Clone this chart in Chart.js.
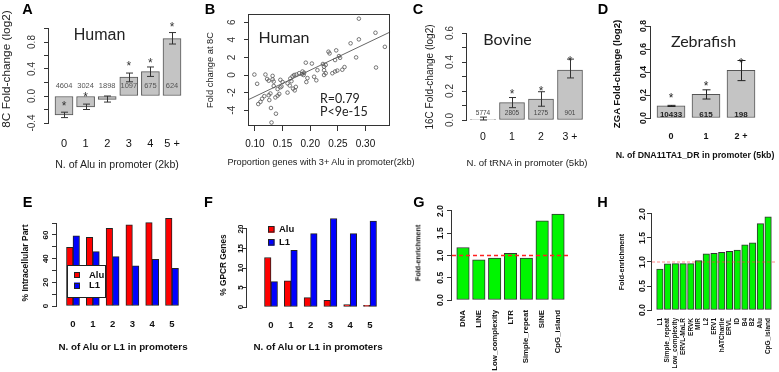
<!DOCTYPE html>
<html>
<head>
<meta charset="utf-8">
<script src="https://cdn.jsdelivr.net/npm/chart.js@4.4.0/dist/chart.umd.min.js"></script>
<style>
  body { margin: 0; background: #fff; }
  #fig { position: relative; width: 779px; height: 372px; overflow: hidden; background: #fff;
         font-family: "Liberation Sans", Arial, sans-serif; }
  #fig canvas { position: absolute; }
  .t { position: absolute; white-space: nowrap; line-height: 1; color: #222; }
</style>
</head>
<body>
<div id="fig"></div>
<script>
const FONT = "'Liberation Sans', Arial, sans-serif";
const INK = '#333';
const AX = '#333';

// --- A: human 8C, number of Alu in promoter
const aCats = ['0', '1', '2', '3', '4', '5 +'];
const aMean = [-0.28, -0.16, -0.05, 0.28, 0.36, 0.85];
const aLo = [-0.32, -0.20, -0.09, 0.21, 0.29, 0.77];
const aHi = [-0.24, -0.12, 0.00, 0.34, 0.43, 0.94];
const aStar = [-0.10, 0.03, null, 0.49, 0.53, 1.07];
const aN = ['4604', '3024', '1898', '1097', '675', '624'];
const aTicks = [-0.4, -0.2, 0, 0.2, 0.4, 0.6, 0.8, 1.0];
const aTickLab = ['-0.4', '', '0.0', '', '0.4', '', '0.8', ''];

// --- B: fold change vs proportion of genes with 3+ Alu
const bX = [0.099, 0.104, 0.106, 0.110, 0.113, 0.117, 0.119, 0.122, 0.125, 0.125, 0.126, 0.128, 0.129, 0.130,
  0.132, 0.132, 0.134, 0.134, 0.137, 0.138, 0.141, 0.141, 0.144, 0.146, 0.146, 0.150, 0.148, 0.159, 0.159,
  0.163, 0.164, 0.166, 0.168, 0.169, 0.171, 0.172, 0.174, 0.175, 0.180, 0.185, 0.186, 0.188, 0.189, 0.192,
  0.193, 0.195, 0.203, 0.207, 0.211, 0.213, 0.223, 0.225, 0.228, 0.225, 0.225, 0.228, 0.233, 0.235, 0.240,
  0.245, 0.245, 0.247, 0.249, 0.252, 0.254, 0.258, 0.262, 0.273, 0.283, 0.288, 0.288, 0.318, 0.319, 0.335];
const bY = [0.05, -1.0, -3.3, -3.05, -2.7, -2.4, 0.05, -0.45, -0.65, -2.3, -2.85, -2.1, -3.75, -5.4,
  -0.1, -0.5, -0.75, -1.25, -2.55, -4.4, -2.35, -1.6, -2.15, -1.4, -0.55, -0.8, -1.3, -0.95, -2.0,
  -1.2, -0.4, -0.7, -0.15, -1.55, 0.0, -1.75, -1.35, 0.05, 0.2, 0.1, 0.4, 0.0, 0.25, 1.4,
  -0.8, -0.35, 1.3, -0.2, -0.6, 0.55, 1.25, 0.95, 1.15, 0.55, 0.0, 0.2, 2.65, 2.45, 0.2,
  0.4, 1.7, 2.8, 0.5, 2.15, 1.95, 0.6, 0.9, 3.6, 2.0, 4.05, 6.4, 4.8, 0.85, 3.2];
const bFitA = -5.45, bFitB = 30;
const bXTicks = [0.10, 0.15, 0.20, 0.25, 0.30];
const bYTicks = [-4, -2, 0, 2, 4, 6];

// --- C: bovine 16C, number of tRNA in promoter
const cCats = ['0', '1', '2', '3 +'];
const cMean = [0.005, 0.12, 0.145, 0.345];
const cLo = [0.0, 0.085, 0.095, 0.29];
const cHi = [0.02, 0.155, 0.195, 0.42];
const cStar = [null, 0.20, 0.22, 0.43];
const cN = ['5774', '2805', '1275', '901'];
const cTicks = [0, 0.1, 0.2, 0.3, 0.4, 0.5, 0.6];
const cTickLab = ['0.0', '', '0.2', '', '0.4', '', '0.6'];

// --- D: zebrafish ZGA, number of DNA11TA1_DR in promoter
const dCats = ['0', '1', '2 +'];
const dMean = [0.105, 0.205, 0.415];
const dLo = [0.10, 0.165, 0.325];
const dHi = [0.11, 0.245, 0.50];
const dStar = [0.20, 0.30, 0.50];
const dN = ['10433', '615', '198'];
const dTicks = [0, 0.2, 0.4, 0.6, 0.8];
const dTickLab = ['0.0', '0.2', '0.4', '0.6', '0.8'];

// --- E / F: % intracellular part and % GPCR genes
const efCats = ['0', '1', '2', '3', '4', '5'];
const eAlu = [49.6, 58, 65.6, 68.5, 70.4, 74];
const eL1 = [59.2, 46, 41.7, 34, 39.4, 31.8];
const eTicks = [0, 10, 20, 30, 40, 50, 60, 70];
const eTickLab = ['0', '', '20', '', '40', '', '60', ''];
const fAlu = [12.7, 6.7, 2.4, 1.7, 0.6, 0.45];
const fL1 = [6.5, 14.5, 18.8, 22.7, 18.8, 22];
const fTicks = [0, 5, 10, 15, 20];
const fTickLab = ['0', '5', '10', '15', '20'];

// --- G / H: fold-enrichment of repeat classes / families
const gCats = ['DNA', 'LINE', 'Low_complexity', 'LTR', 'Simple_repeat', 'SINE', 'CpG_island'];
const gVal = [1.18, 0.9, 0.94, 1.05, 0.94, 1.78, 1.93];
const hCats = ['L1', 'Simple_repeat', 'Low_complexity', 'ERVL-MaLR', 'ERVK', 'MIR', 'L2', 'ERV1',
  'hATCharlie', 'ERVL', 'ID', 'B4', 'B2', 'Alu', 'CpG_island'];
const hVal = [0.85, 0.96, 0.965, 0.965, 0.965, 1.03, 1.17, 1.18, 1.2, 1.22, 1.25, 1.36, 1.4, 1.8, 1.94];
const ghTicks = [0, 0.5, 1, 1.5, 2];
const ghTickLab = ['0.0', '0.5', '1.0', '1.5', '2.0'];
const ghBase = 1.0;

const fig = document.getElementById('fig');
const mctx = document.createElement('canvas').getContext('2d');
function textW(s, f) {
  mctx.font = `${f.weight || 'normal'} ${f.size}px ${f.family}`;
  return mctx.measureText(s).width;
}

// R-like decorations: axis line between end ticks, box, error bars, stars, counts, legend
const rDecor = {
  id: 'rDecor',
  afterDatasetsDraw(chart, _args, o) {
    const { ctx, chartArea: ca } = chart;
    const x = chart.scales.x, y = chart.scales.y;
    const al = p => Math.round(p - 0.5) + 0.5;
    ctx.save();
    ctx.lineWidth = 1;
    if (o.hline) {
      ctx.strokeStyle = o.hline.color;
      ctx.lineWidth = o.hline.width;
      ctx.setLineDash(o.hline.dash);
      const py = y.getPixelForValue(o.hline.value);
      ctx.beginPath(); ctx.moveTo(ca.left, py); ctx.lineTo(ca.right, py); ctx.stroke();
      ctx.setLineDash([]);
      ctx.lineWidth = 1;
    }
    ctx.strokeStyle = AX;
    if (o.axis) {
      const t = y.ticks, px = Math.round(ca.left) - 0.5;
      ctx.beginPath();
      ctx.moveTo(px, al(y.getPixelForValue(t[0].value)) + 0.5);
      ctx.lineTo(px, al(y.getPixelForValue(t[t.length - 1].value)) - 0.5);
      ctx.stroke();
    }
    if (o.box) {
      ctx.strokeRect(Math.round(ca.left) - 0.5, Math.round(ca.top) + 0.5,
        Math.round(ca.width), Math.round(ca.height) - 1);
    }
    if (o.err) {
      ctx.strokeStyle = o.err.color;
      const c = o.err.cap;
      o.err.lo.forEach((lo, i) => {
        const px = Math.round(x.getPixelForValue(i)) + 0.5;
        const p1 = y.getPixelForValue(lo), p2 = y.getPixelForValue(o.err.hi[i]);
        ctx.beginPath();
        ctx.moveTo(px, p1); ctx.lineTo(px, p2);
        ctx.moveTo(px - c, p1); ctx.lineTo(px + c, p1);
        ctx.moveTo(px - c, p2); ctx.lineTo(px + c, p2);
        ctx.stroke();
      });
    }
    ctx.textAlign = 'center';
    if (o.stars) {
      ctx.fillStyle = o.stars.color;
      ctx.font = `${o.stars.size}px ${FONT}`;
      ctx.textBaseline = 'alphabetic';
      o.stars.y.forEach((v, i) => {
        if (v === null) return;
        ctx.fillText('*', x.getPixelForValue(i), y.getPixelForValue(v) + 0.58 * o.stars.size);
      });
    }
    if (o.counts) {
      ctx.fillStyle = o.counts.color;
      ctx.font = `${o.counts.weight || 'normal'} ${o.counts.size}px ${FONT}`;
      ctx.textBaseline = 'middle';
      o.counts.text.forEach((s, i) => ctx.fillText(s, x.getPixelForValue(i), y.getPixelForValue(o.counts.y)));
    }
    if (o.legend) {
      const L = o.legend;
      if (L.box) {
        ctx.fillStyle = '#fff';
        ctx.fillRect(L.box[0], L.box[1], L.box[2], L.box[3]);
        ctx.strokeStyle = '#222';
        ctx.strokeRect(L.box[0] + 0.5, L.box[1] + 0.5, L.box[2], L.box[3]);
      }
      ctx.font = `bold ${L.size}px ${FONT}`;
      ctx.textAlign = 'left';
      ctx.textBaseline = 'middle';
      chart.data.datasets.forEach((ds, i) => {
        const cy = L.rows[i];
        ctx.fillStyle = ds.backgroundColor;
        ctx.fillRect(L.sqX, cy - L.sq / 2, L.sq, L.sq);
        ctx.strokeStyle = '#222';
        ctx.strokeRect(L.sqX + 0.5, Math.round(cy - L.sq / 2) + 0.5, L.sq - 1, L.sq - 1);
        ctx.fillStyle = '#111';
        ctx.fillText(ds.label, L.textX, cy);
      });
    }
    ctx.restore();
  }
};

function zeroPad(s) { s.paddingLeft = s.paddingRight = s.paddingTop = s.paddingBottom = 0; }

// value range that puts pixel pa..pb on a scale where pixel p0 -> v0 and p1 -> v1
function span(p0, v0, p1, v1, pa, pb) {
  const k = (v1 - v0) / (p1 - p0);
  return [v0 + (pa - p0) * k, v0 + (pb - p0) * k];
}

function yAxis(range, ticks, labels, size, weight, L, cx) {
  const font = { family: FONT, size, weight };
  const w = Math.max(...labels.map(s => textW(s, font)));
  return {
    type: 'linear', min: range[0], max: range[1],
    afterBuildTicks: s => { s.ticks = ticks.map(v => ({ value: v })); },
    ticks: { callback: (v, i) => labels[i], autoSkip: false, minRotation: 90, maxRotation: 90,
      crossAlign: 'center', padding: L - 5 - cx - w / 2, font, color: weight ? '#111' : INK },
    grid: { drawOnChartArea: false, tickLength: 5, color: AX },
    border: { display: false }
  };
}

function xAxis(range, ticks, labels, size, weight, gap, rot, marks) {
  return {
    type: 'linear', min: range[0], max: range[1], offset: false,
    afterBuildTicks: s => { s.ticks = ticks.map(v => ({ value: v })); },
    ticks: { callback: (v, i) => labels[i], autoSkip: false, minRotation: rot ? 90 : 0, maxRotation: rot ? 90 : 0,
      padding: gap, font: { family: FONT, size, weight }, color: weight ? '#111' : INK },
    grid: marks ? { drawOnChartArea: false, tickLength: 5, color: AX, offset: false }
                : { display: false, drawTicks: false, offset: false },
    border: { display: false }
  };
}

function panel(type, box, area, datasets, xs, ys, decor) {
  const [bx, by, bw, bh] = box, [L, T, R, B] = area;
  const cv = document.createElement('canvas');
  cv.width = bw; cv.height = bh;
  cv.style.left = bx + 'px'; cv.style.top = by + 'px';
  fig.appendChild(cv);
  xs.afterFit = s => { s.height = by + bh - B; zeroPad(s); };
  ys.afterFit = s => { s.width = L - bx; zeroPad(s); };
  return new Chart(cv, {
    type,
    data: { datasets },
    options: {
      responsive: false, animation: false, events: [],
      layout: { padding: { left: 0, top: T - by, right: bx + bw - R, bottom: 0 } },
      scales: { x: xs, y: ys },
      plugins: { legend: { display: false }, tooltip: { enabled: false }, rDecor: decor }
    },
    plugins: [rDecor]
  });
}

const pts = vals => vals.map((v, i) => ({ x: i, y: v }));
const grayBar = (vals, w) => ({ type: 'bar', data: pts(vals), backgroundColor: '#c4c4c4', borderColor: '#555',
  borderWidth: 1, borderSkipped: false, barThickness: w });
const idx = a => a.map((_, i) => i);

// A
panel('bar', [0, 0, 190, 185], [49, 13, 185, 125],
  [grayBar(aMean, 18)],
  xAxis(span(64, 0, 172, 5, 49, 185), idx(aCats), aCats, 11, 'normal', 12.4),
  yAxis(span(96, 0, 42, 0.8, 125, 13), aTicks, aTickLab, 10, undefined, 49, 32),
  { axis: true, err: { lo: aLo, hi: aHi, cap: 3.5, color: '#333' },
    stars: { y: aStar, size: 12, color: '#333' }, counts: { text: aN, y: 0.148, size: 7.5, color: '#555' } });

// B
const bXR = span(255, 0.10, 367, 0.30, 249, 392);
panel('scatter', [190, 0, 205, 185], [249, 14, 392, 126],
  [{ type: 'scatter', data: bX.map((v, i) => ({ x: v, y: bY[i] })), pointRadius: 1.8, pointBorderWidth: 0.8,
     borderColor: '#555', backgroundColor: 'rgba(0,0,0,0)' },
   { type: 'line', data: bXR.map(v => ({ x: v, y: bFitA + bFitB * v })), borderColor: '#666', borderWidth: 1,
     pointRadius: 0 }],
  xAxis(bXR, bXTicks, bXTicks.map(v => v.toFixed(2)), 10, 'normal', 7, false, true),
  yAxis(span(75, 0, 22.2, 6, 126, 14), bYTicks, bYTicks.map(String), 10, undefined, 249, 232.5),
  { box: true });

// C
panel('bar', [380, 0, 210, 185], [467, 29, 587, 124],
  [grayBar(cMean, 25)],
  xAxis(span(483, 0, 570, 3, 467, 587), idx(cCats), cCats, 10.5, 'normal', 6.7),
  yAxis(span(120, 0, 33, 0.6, 124, 29), cTicks, cTickLab, 10, undefined, 467, 450),
  { axis: true, err: { lo: cLo, hi: cHi, cap: 3.5, color: '#333' },
    stars: { y: cStar, size: 12, color: '#333' }, counts: { text: cN, y: 0.048, size: 6.5, color: '#444' } });

// D
panel('bar', [575, 0, 204, 185], [651, 22, 766, 122],
  [grayBar(dMean, 28)],
  xAxis(span(671, 0, 741, 2, 651, 766), idx(dCats), dCats, 9, 'bold', 9.6),
  yAxis(span(118, 0, 26, 0.8, 122, 22), dTicks, dTickLab, 8.5, 'bold', 651, 644),
  { axis: true, err: { lo: dLo, hi: dHi, cap: 4, color: '#222' },
    stars: { y: dStar, size: 12, color: '#222' }, counts: { text: dN, y: 0.026, size: 8, weight: 'bold', color: '#222' } });

// E
const redBlue = (alu, l1) => [
  { type: 'bar', label: 'Alu', data: pts(alu), backgroundColor: '#ff0000', borderColor: '#222', borderWidth: 1,
    borderSkipped: false, barThickness: 6.5 },
  { type: 'bar', label: 'L1', data: pts(l1), backgroundColor: '#0000ff', borderColor: '#222', borderWidth: 1,
    borderSkipped: false, barThickness: 6.5 }];
panel('bar', [0, 185, 190, 187], [57, 216, 189, 309],
  redBlue(eAlu, eL1),
  xAxis(span(73, 0, 172, 5, 57, 189), idx(efCats), efCats, 9.5, 'bold', 9.3),
  yAxis(span(306, 0, 235, 60, 309, 216), eTicks, eTickLab, 8, 'bold', 57, 46),
  { axis: true, legend: { box: [67, 80, 38, 32], sqX: 74, sq: 6, textX: 89, rows: [90, 100.5], size: 9.5 } });

// F
panel('bar', [190, 185, 205, 187], [247, 216, 389, 310],
  redBlue(fAlu, fL1),
  xAxis(span(271, 0, 370, 5, 247, 389), idx(efCats), efCats, 9.5, 'bold', 9.3),
  yAxis(span(307, 0, 229, 20, 310, 216), fTicks, fTickLab, 8, 'bold', 247, 240.7),
  { axis: true, legend: { box: null, sqX: 78, sq: 6.5, textX: 89, rows: [44.5, 57.5], size: 9.5 } });

// G
const greenBar = (vals, w) => ({ type: 'bar', data: pts(vals), backgroundColor: '#00f500', borderColor: '#333',
  borderWidth: 1, borderSkipped: false, barThickness: w });
panel('bar', [380, 185, 195, 187], [452, 203, 568, 302],
  [greenBar(gVal, 12.5)],
  xAxis(span(463, 0, 558, 6, 452, 568), idx(gCats), gCats, 7.8, 'bold', 8, true),
  yAxis(span(300, 0, 211, 2, 302, 203), ghTicks, ghTickLab, 8.5, 'bold', 452, 441),
  { axis: true, hline: { value: ghBase, color: '#ff2020', width: 1.3, dash: [4, 3] } });

// H
panel('bar', [575, 185, 204, 187], [652, 212, 776, 312],
  [greenBar(hVal, 6.5)],
  xAxis(span(659.9, 0, 768.1, 14, 652, 776), idx(hCats), hCats, 6.5, 'bold', 6, true),
  yAxis(span(310, 0, 214, 2, 312, 212), ghTicks, ghTickLab, 8.5, 'bold', 652, 642.8),
  { axis: true, hline: { value: ghBase, color: 'rgba(255,60,60,0.6)', width: 1, dash: [3, 2] } });

// text: panel letters, titles, annotations
function note(s, x, y, size, o = {}) {
  const d = document.createElement('div');
  d.className = 't';
  d.textContent = s;
  d.style.left = x + 'px';
  d.style.top = y + 'px';
  d.style.fontSize = size + 'px';
  if (o.bold) d.style.fontWeight = 'bold';
  if (o.family) d.style.fontFamily = o.family;
  if (o.color) d.style.color = o.color;
  d.style.transform = `translate(${o.left ? '0' : '-50%'},-50%)` + (o.rot ? ' rotate(-90deg)' : '');
  fig.appendChild(d);
}
const LATO = 'Lato, "Open Sans", sans-serif';
[['A', 27.5, 8.5], ['B', 210, 8.5], ['C', 418, 8.5], ['D', 603, 8.5],
 ['E', 27.5, 202], ['F', 208.5, 202], ['G', 419, 202], ['H', 602.5, 202]]
  .forEach(([s, x, y]) => note(s, x, y, 14.5, { bold: true, color: '#000' }));

note('Human', 99.5, 34.5, 16);
note('8C Fold-change (log2)', 6.5, 69, 11.8, { rot: true });
note('N. of Alu in promoter (2kb)', 117, 164, 10.6);

note('Human', 284, 36.5, 16, { family: LATO });
note('R=0.79', 320, 98.5, 12.5, { family: LATO, left: true });
note('P<9e-15', 320, 111.5, 12.5, { family: LATO, left: true });
note('Fold change at 8C', 211, 70, 9.3, { rot: true });
note('Proportion genes with 3+ Alu in promoter(2kb)', 321, 163, 9.2);

note('Bovine', 507.5, 39, 16, { family: LATO });
note('16C Fold-change (log2)', 430, 76.5, 10, { rot: true });
note('N. of tRNA in promoter (5kb)', 527, 163, 9.6);

note('Zebrafish', 703.5, 41, 16, { family: LATO });
note('ZGA Fold-change (log2)', 617, 74, 9.6, { rot: true, bold: true, color: '#111' });
note('N. of DNA11TA1_DR in promoter (5kb)', 695, 155, 8.8, { bold: true, color: '#111' });

note('% Intracellular Part', 25, 262.5, 8.5, { rot: true, bold: true, color: '#111' });
note('N. of Alu or L1 in promoters', 123, 347, 9.8, { bold: true, color: '#111' });
note('% GPCR Genes', 223, 265, 8.3, { rot: true, bold: true, color: '#111' });
note('N. of Alu or L1 in promoters', 318, 347, 9.8, { bold: true, color: '#111' });
note('Fold-enrichment', 418, 252.5, 7.2, { rot: true, bold: true, color: '#111' });
note('Fold-enrichment', 622, 262, 7.2, { rot: true, bold: true, color: '#111' });
</script>
</body>
</html>
